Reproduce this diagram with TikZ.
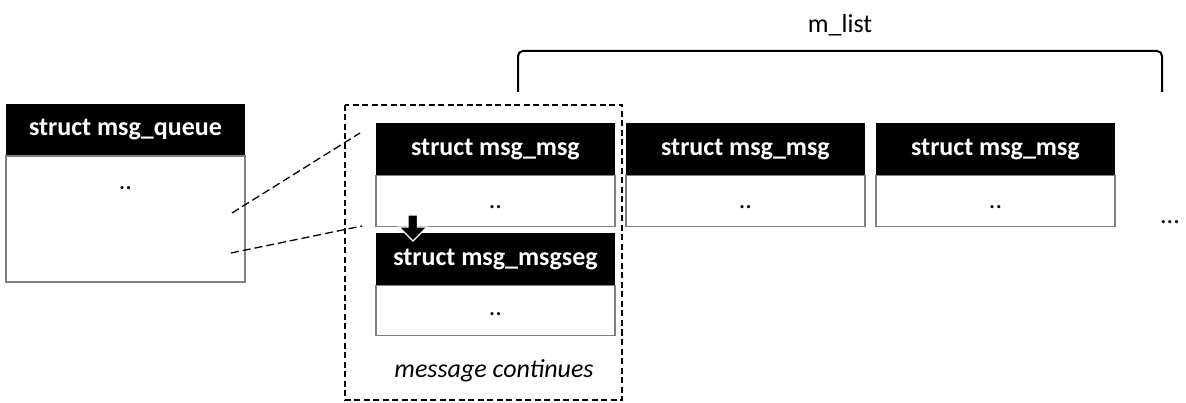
\documentclass[tikz,border=0pt]{standalone}
\usepackage{fontspec}
\setmainfont{Carlito}
\usetikzlibrary{positioning}
\newcommand{\bigtxt}{\fontsize{26}{30}\selectfont}

\begin{document}
\begin{tikzpicture}[x=1pt,y=-1pt,
  hdr/.style={fill=black,text=white,font=\bigtxt\bfseries,minimum width=239pt,minimum height=52pt,inner sep=0pt,outer sep=0pt},
  bdy/.style={draw=gray,line width=1.3pt,font=\bigtxt,minimum width=239pt,minimum height=51pt,inner sep=0pt,outer sep=0pt,text height=20pt,text depth=5pt},
  dsh/.style={dash pattern=on 6pt off 3.5pt,line width=1.3pt}]
\useasboundingbox (0,0) rectangle (1186,403);
% msg_queue
\node[hdr] (qh) at (125.5,130) {struct msg\_queue};
\node[bdy,minimum height=126pt,text height=10pt,text depth=68pt,below=0pt of qh] (qb) {..};
% message list
\node[hdr] (m1h) at (495.5,149.5) {struct msg\_msg};
\node[bdy,below=0pt of m1h] (m1b) {..};
\node[hdr,right=11pt of m1h] (m2h) {struct msg\_msg};
\node[bdy,below=0pt of m2h] (m2b) {..};
\node[hdr,right=11pt of m2h] (m3h) {struct msg\_msg};
\node[bdy,below=0pt of m3h] (m3b) {..};
\node[font=\bigtxt] (more) at (1170,222) {...};
% segment
\node[hdr,below=7pt of m1b] (sh) {struct msg\_msgseg};
\node[bdy,minimum height=50pt,text height=18pt,text depth=8pt,below=0pt of sh] (sb) {..};
\node[font=\bigtxt\itshape] (cont) at (494,371) {message continues};
\draw[dsh] (345,105) rectangle (622,400);
\filldraw[fill=black,draw=white,line width=1.2pt] (408,215) -- (417.5,215) -- (417.5,227) -- (427,227) -- (413,241) -- (399,227) -- (408,227) -- cycle;
% pointers
\coordinate (qa) at (232,213); \coordinate (ga) at (360,133);
\coordinate (qc) at (231,253); \coordinate (gc) at (362,226);
\draw[dsh,dash pattern=on 8pt off 4pt] (qa) -- (ga);
\draw[dsh,dash pattern=on 8pt off 4pt] (qc) -- (gc);
% m_list brace
\draw[line width=2pt,rounded corners=5pt] (518,92) -- (518,51) -- (1162,51) -- (1162,92);
\node[font=\bigtxt] (ml) at (840,25) {m\_list};
\end{tikzpicture}
\end{document}
